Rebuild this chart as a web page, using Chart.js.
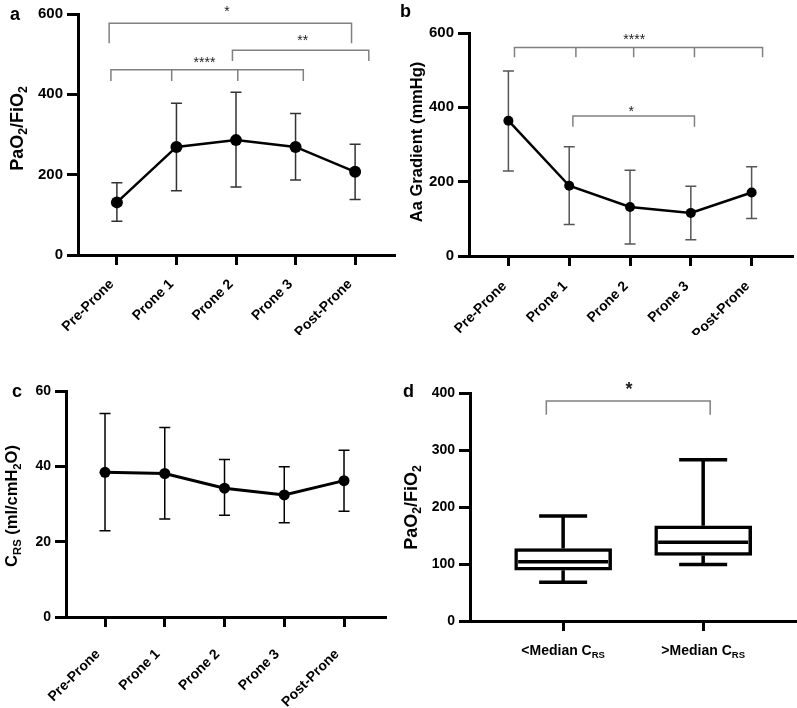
<!DOCTYPE html>
<html>
<head>
<meta charset="utf-8">
<script src="https://cdn.jsdelivr.net/npm/chart.js@4.4.1/dist/chart.umd.min.js"></script>
<style>
  html, body { margin: 0; padding: 0; background: #fff; }
  #lienzo { position: relative; width: 797px; height: 708px; overflow: hidden; }
  #lienzo canvas { position: absolute; }
</style>
</head>
<body>
<div id="lienzo">
  <canvas id="chartA" width="400" height="335" style="left:0;top:0"></canvas>
  <canvas id="chartB" width="397" height="335" style="left:400px;top:0"></canvas>
  <canvas id="chartC" width="400" height="368" style="left:0;top:340px"></canvas>
  <canvas id="chartD" width="397" height="368" style="left:400px;top:340px"></canvas>
</div>
<script>
// --- DATOS ---
const fases = ['Pre-Prone', 'Prone 1', 'Prone 2', 'Prone 3', 'Post-Prone'];

// a) PaO2/FiO2 (media y barras de error)
const pfMedia = [131, 269, 286, 269, 207];
const pfSup   = [180, 378, 405, 352, 276];
const pfInf   = [84, 160, 169, 187, 138];
const ticksA  = [0, 200, 400, 600];

// b) Gradiente Aa
const aaMedia = [364, 189, 132, 116, 171];
const aaSup   = [498, 294, 231, 188, 240];
const aaInf   = [229, 85, 32, 44, 101];
const ticksB  = [0, 200, 400, 600];

// c) Crs
const crsMedia = [38.4, 38.1, 34.2, 32.4, 36.2];
const crsSup   = [54.0, 50.3, 41.8, 39.9, 44.3];
const crsInf   = [22.9, 26.0, 27.0, 25.0, 28.1];
const ticksC   = [0, 20, 40, 60];

// d) Boxplot PaO2/FiO2 segun mediana de Crs
const grupos = ['<Median C', '>Median C'];   // + subindice RS
const boxMin = [68, 99];
const boxQ1  = [89, 115];
const boxMed = [104, 138];
const boxQ3  = [127, 167];
const boxMax = [184, 283];
const ticksD = [0, 100, 200, 300, 400];

// Corchetes de significancia (en unidades de los ejes)
const sigA = [
    { x1: -0.13, x2: 3.94, y: 577, pie: 527, txt: '*', tx: 1.85, ty: 614 },
    { x1: 1.94, x2: 4.23, y: 510, pie: 483, txt: '**', tx: 3.12, ty: 542 },
    { x1: -0.10, x2: 3.13, y: 461, pie: 433, mid: [0.92, 2.03], txt: '****', tx: 1.47, ty: 487 }
];
const sigB = [
    { x1: 0.10, x2: 4.18, y: 561, pie: 535, mid: [1.11, 2.06, 3.06], txt: '****', tx: 2.07, ty: 591 },
    { x1: 1.06, x2: 3.06, y: 377, pie: 348, txt: '*', tx: 2.02, ty: 399 }
];
const sigD = [
    { x1: -0.12, x2: 1.05, y: 386, pie: 362, txt: '*', tx: 0.47, ty: 415 }
];

const FUENTE = '"Liberation Sans", Arial, Helvetica, sans-serif';

// --- helpers de texto con subindices ---
function medir(ctx, partes, size) {
    let w = 0;
    partes.forEach(([t, sub]) => {
        ctx.font = `bold ${sub ? size * 0.68 : size}px ${FUENTE}`;
        w += ctx.measureText(t).width;
    });
    return w;
}

function textoSub(ctx, partes, size, x, y) {
    partes.forEach(([t, sub]) => {
        ctx.font = `bold ${sub ? size * 0.68 : size}px ${FUENTE}`;
        ctx.fillText(t, x, sub ? y + size * 0.24 : y);
        x += ctx.measureText(t).width;
    });
}

// letra del panel + titulo del eje Y
function pluginPanel(letra, titulo) {
    return {
        id: 'panel',
        afterDraw(chart) {
            const ctx = chart.ctx;
            ctx.save();
            ctx.fillStyle = '#000';
            ctx.textAlign = 'left';
            ctx.textBaseline = 'alphabetic';
            ctx.font = `bold 18px ${FUENTE}`;
            ctx.fillText(letra.txt, letra.x, letra.y);
            const w = medir(ctx, titulo.partes, titulo.size);
            ctx.translate(titulo.x, titulo.yc);
            ctx.rotate(-Math.PI / 2);
            textoSub(ctx, titulo.partes, titulo.size, -w / 2, 0);
            ctx.restore();
        }
    };
}

function pluginErrores(sup, inf, color) {
    return {
        id: 'errores',
        beforeDatasetsDraw(chart) {
            const { ctx, scales: { x, y } } = chart;
            ctx.save();
            ctx.strokeStyle = color;
            ctx.lineWidth = 1.5;
            sup.forEach((s, i) => {
                const px = x.getPixelForValue(i);
                const y1 = y.getPixelForValue(s);
                const y2 = y.getPixelForValue(inf[i]);
                ctx.beginPath();
                ctx.moveTo(px, y1); ctx.lineTo(px, y2);
                ctx.moveTo(px - 5.5, y1); ctx.lineTo(px + 5.5, y1);
                ctx.moveTo(px - 5.5, y2); ctx.lineTo(px + 5.5, y2);
                ctx.stroke();
            });
            ctx.restore();
        }
    };
}

function pluginCorchetes(lista, fuenteEstrella) {
    return {
        id: 'corchetes',
        afterDraw(chart) {
            const { ctx, scales: { x, y } } = chart;
            ctx.save();
            ctx.strokeStyle = '#808080';
            ctx.lineWidth = 1.5;
            lista.forEach(c => {
                const x1 = x.getPixelForValue(c.x1), x2 = x.getPixelForValue(c.x2);
                const py = y.getPixelForValue(c.y), pp = y.getPixelForValue(c.pie);
                ctx.beginPath();
                ctx.moveTo(x1, pp); ctx.lineTo(x1, py); ctx.lineTo(x2, py); ctx.lineTo(x2, pp);
                (c.mid || []).forEach(m => {
                    const pm = x.getPixelForValue(m);
                    ctx.moveTo(pm, py); ctx.lineTo(pm, pp);
                });
                ctx.stroke();
                ctx.fillStyle = '#222';
                ctx.font = fuenteEstrella.font;
                ctx.textAlign = 'center';
                ctx.textBaseline = 'alphabetic';
                ctx.fillText(c.txt, x.getPixelForValue(c.tx), y.getPixelForValue(c.ty) + fuenteEstrella.size * 0.57);
            });
            ctx.restore();
        }
    };
}

// --- ejes ---
function ejeX(etiquetas, min, max, alto, pad, desplaz, size) {
    return {
        type: 'linear', min, max, offset: false,
        afterBuildTicks: (s) => { s.ticks = etiquetas.map((_, i) => ({ value: i })); },
        afterFit: (s) => { s.height = alto; },
        border: { display: true, width: 3, color: '#000' },
        grid: { offset: false, drawOnChartArea: false, tickLength: 10, tickWidth: 3, tickColor: '#000', lineWidth: 3, color: '#000' },
        ticks: {
            autoSkip: false, maxRotation: 45, minRotation: 45, padding: pad, labelOffset: desplaz, color: '#000',
            font: { family: FUENTE, size, weight: 'bold' },
            callback: (v) => etiquetas[v] ?? ''
        }
    };
}

function ejeY(valores, ancho, size) {
    return {
        min: valores[0], max: valores[valores.length - 1],
        afterBuildTicks: (s) => { s.ticks = valores.map(v => ({ value: v })); },
        afterFit: (s) => { s.width = ancho; },
        border: { display: true, width: 3, color: '#000' },
        grid: { drawOnChartArea: false, tickLength: 11, tickWidth: 3, tickColor: '#000', lineWidth: 3, color: '#000' },
        ticks: { padding: 4, color: '#000', font: { family: FUENTE, size, weight: 'bold' } }
    };
}

function lineaDatos(media, radio, grosor) {
    return {
        data: media.map((v, i) => ({ x: i, y: v })),
        borderColor: '#000',
        backgroundColor: '#000',
        borderWidth: grosor,
        pointRadius: radio,
        pointBackgroundColor: '#000',
        pointBorderWidth: 0,
        tension: 0,
        clip: false
    };
}

const base = {
    responsive: false,
    animation: false,
    plugins: { legend: { display: false }, tooltip: { enabled: false } }
};

// --- Panel a ---
new Chart(document.getElementById('chartA'), {
    type: 'line',
    data: { datasets: [lineaDatos(pfMedia, 6, 2.5)] },
    options: {
        ...base,
        layout: { padding: { top: 14, right: 5, left: 0, bottom: 0 } },
        scales: {
            x: ejeX(fases, -0.653, 4.653, 80, 11, -5, 14),
            y: ejeY(ticksA, 78, 15)
        }
    },
    plugins: [
        pluginErrores(pfSup, pfInf, '#333'),
        pluginCorchetes(sigA, { font: `14px ${FUENTE}`, size: 14 }),
        pluginPanel({ txt: 'a', x: 10, y: 20 },
            { partes: [['PaO'], ['2', 1], ['/FiO'], ['2', 1]], size: 18, x: 23, yc: 128.5 })
    ]
});

// --- Panel b ---
new Chart(document.getElementById('chartB'), {
    type: 'line',
    data: { datasets: [lineaDatos(aaMedia, 5, 2.5)] },
    options: {
        ...base,
        layout: { padding: { top: 33, right: 0, left: 0, bottom: 0 } },
        scales: {
            x: ejeX(fases, -0.648, 4.664, 79, 12, -4, 14),
            y: ejeY(ticksB, 69, 15)
        }
    },
    plugins: [
        pluginErrores(aaSup, aaInf, '#555'),
        pluginCorchetes(sigB, { font: `14px ${FUENTE}`, size: 14 }),
        pluginPanel({ txt: 'b', x: 0, y: 17 },
            { partes: [['Aa Gradient (mmHg)']], size: 16.5, x: 22, yc: 142 })
    ]
});

// --- Panel c ---
new Chart(document.getElementById('chartC'), {
    type: 'line',
    data: { datasets: [lineaDatos(crsMedia, 5.5, 3)] },
    options: {
        ...base,
        layout: { padding: { top: 51, right: 15, left: 0, bottom: 0 } },
        scales: {
            x: ejeX(fases, -0.653, 4.686, 91, 19, -7, 14),
            y: ejeY(ticksC, 66, 14)
        }
    },
    plugins: [
        pluginErrores(crsSup, crsInf, '#000'),
        pluginPanel({ txt: 'c', x: 12, y: 57 },
            { partes: [['C'], ['RS', 1], [' (ml/cmH'], ['2', 1], ['O)']], size: 16.5, x: 17, yc: 166 })
    ]
});

// --- Panel d (boxplot) ---
const pluginCajas = {
    id: 'cajas',
    afterDatasetsDraw(chart) {
        const { ctx, scales: { x, y } } = chart;
        ctx.save();
        ctx.strokeStyle = '#000';
        ctx.lineWidth = 3.5;
        grupos.forEach((_, i) => {
            const px = x.getPixelForValue(i);
            const mitad = 48 - 3;
            ctx.beginPath();
            // mediana
            ctx.moveTo(px - mitad, y.getPixelForValue(boxMed[i]));
            ctx.lineTo(px + mitad, y.getPixelForValue(boxMed[i]));
            // bigotes
            ctx.moveTo(px, y.getPixelForValue(boxQ3[i]));
            ctx.lineTo(px, y.getPixelForValue(boxMax[i]));
            ctx.moveTo(px - 24, y.getPixelForValue(boxMax[i]));
            ctx.lineTo(px + 24, y.getPixelForValue(boxMax[i]));
            ctx.moveTo(px, y.getPixelForValue(boxQ1[i]));
            ctx.lineTo(px, y.getPixelForValue(boxMin[i]));
            ctx.moveTo(px - 24, y.getPixelForValue(boxMin[i]));
            ctx.lineTo(px + 24, y.getPixelForValue(boxMin[i]));
            ctx.stroke();
        });
        ctx.restore();
    },
    afterDraw(chart) {
        // etiquetas del eje X con subindice
        const { ctx, scales: { x }, chartArea } = chart;
        ctx.save();
        ctx.fillStyle = '#000';
        ctx.textAlign = 'left';
        ctx.textBaseline = 'alphabetic';
        grupos.forEach((g, i) => {
            const partes = [[g], ['RS', 1]];
            const w = medir(ctx, partes, 14);
            textoSub(ctx, partes, 14, x.getPixelForValue(i) - w / 2, chartArea.bottom + 34);
        });
        ctx.restore();
    }
};

new Chart(document.getElementById('chartD'), {
    type: 'bar',
    data: {
        datasets: [{
            data: grupos.map((_, i) => ({ x: i, y: [boxQ1[i], boxQ3[i]] })),
            backgroundColor: '#fff',
            borderColor: '#000',
            borderWidth: 3.5,
            borderSkipped: false,
            barThickness: 97,
            grouped: false
        }]
    },
    options: {
        ...base,
        layout: { padding: { top: 53, right: 0, left: 0, bottom: 0 } },
        scales: {
            x: { ...ejeX(grupos, -0.665, 1.67, 87, 4, 0, 14), ticks: { display: false } },
            y: ejeY(ticksD, 70, 14)
        }
    },
    plugins: [
        pluginCajas,
        pluginCorchetes(sigD, { font: `bold 18px ${FUENTE}`, size: 18 }),
        pluginPanel({ txt: 'd', x: 3, y: 57 },
            { partes: [['PaO'], ['2', 1], ['/FiO'], ['2', 1]], size: 18, x: 17, yc: 167.5 })
    ]
});
</script>
</body>
</html>
